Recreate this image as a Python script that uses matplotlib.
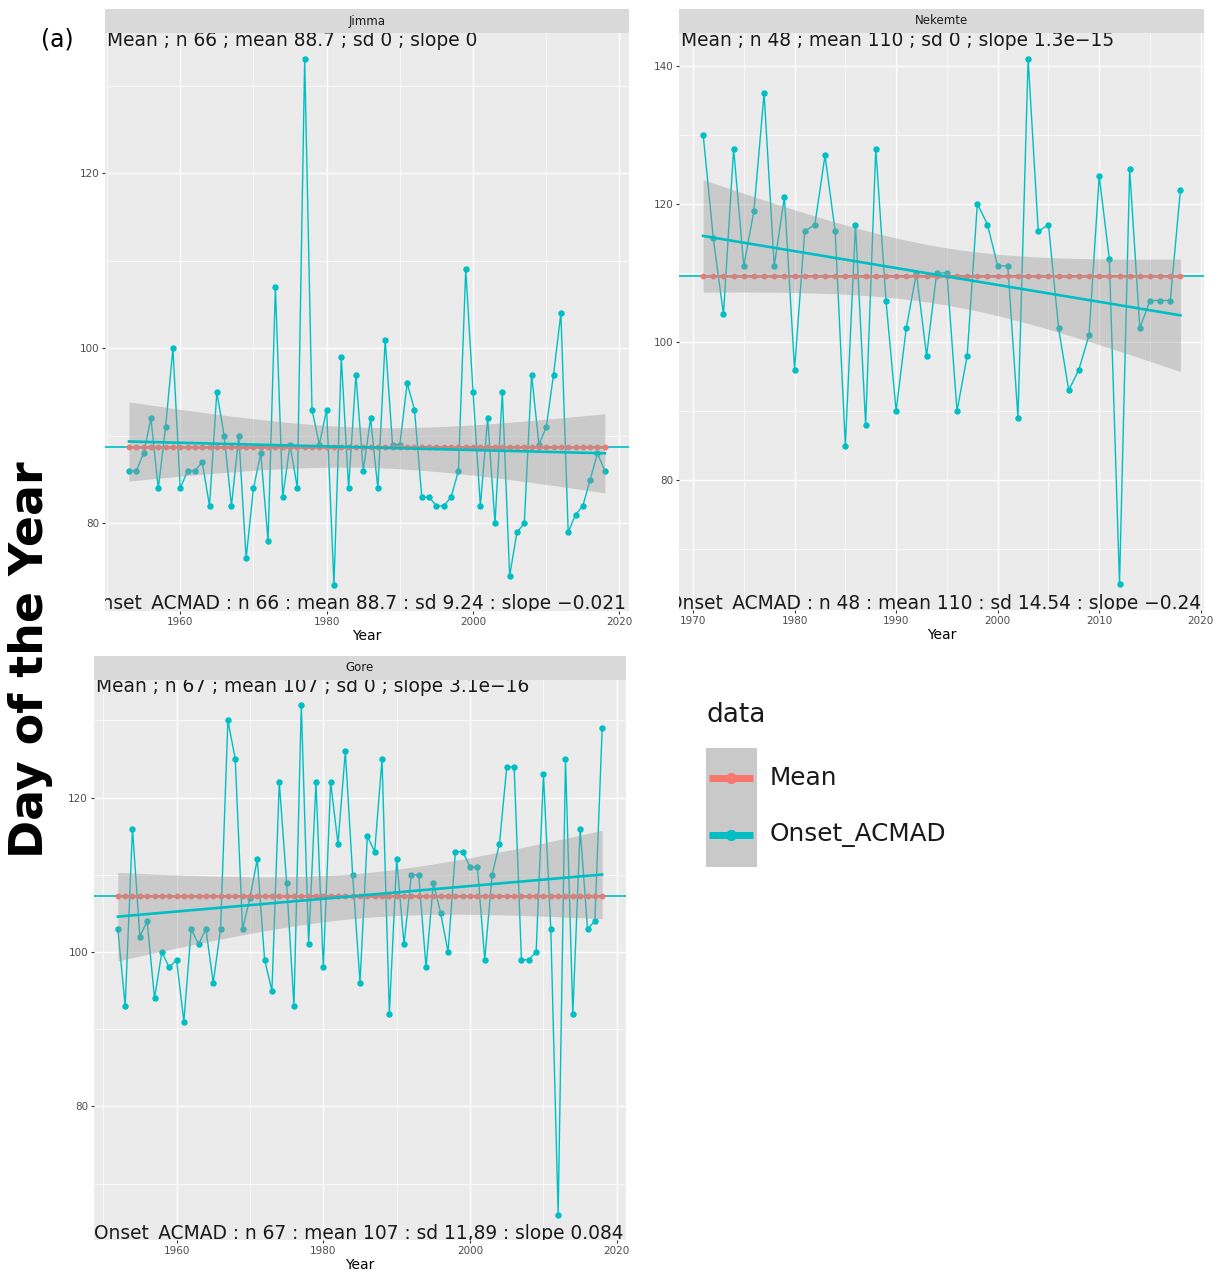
import numpy as np
import matplotlib
matplotlib.use("Agg")
import matplotlib.pyplot as plt
from matplotlib.patches import Rectangle
from matplotlib.ticker import FixedLocator

# ---------------- data ----------------
jimma_years = list(range(1953, 2019))
jimma_onset = [86, 86, 88, 92, 84, 91, 100, 84, 86, 86,
               87, 82, 95, 90, 82, 90, 76, 84, 88, 78,
               107, 83, 89, 84, 133, 93, 89, 93, 73, 99,
               84, 97, 86, 92, 84, 101, 89, 89, 96, 93,
               83, 83, 82, 82, 83, 86, 109, 95, 82, 92,
               80, 95, 74, 79, 80, 97, 89, 91, 97, 104,
               79, 81, 82, 85, 88, 86]

nekemte_years = list(range(1971, 2019))
nekemte_onset = [130, 115, 104, 128, 111, 119, 136, 111, 121, 96,
                 116, 117, 127, 116, 85, 117, 88, 128, 106, 90,
                 102, 110, 98, 110, 110, 90, 98, 120, 117, 111,
                 111, 89, 141, 116, 117, 102, 93, 96, 101, 124,
                 112, 65, 125, 102, 106, 106, 106, 122]

gore_years = list(range(1952, 2019))
gore_onset = [103, 93, 116, 102, 104, 94, 100, 98, 99, 91,
              103, 101, 103, 96, 103, 130, 125, 103, 107, 112,
              99, 95, 122, 109, 93, 132, 101, 122, 98, 122,
              114, 126, 110, 96, 115, 113, 125, 92, 112, 101,
              110, 110, 98, 109, 105, 100, 113, 113, 111, 111,
              99, 110, 114, 124, 124, 99, 99, 100, 123, 103,
              66, 125, 92, 116, 103, 104, 129]

station_names = ["Jimma", "Nekemte", "Gore"]
mean_labels = ["Mean ; n 66 ; mean 88.7 ; sd 0 ; slope 0",
               "Mean ; n 48 ; mean 110 ; sd 0 ; slope 1.3e\u221215",
               "Mean ; n 67 ; mean 107 ; sd 0 ; slope 3.1e\u221216"]
onset_labels = ["Onset_ACMAD : n 66 : mean 88.7 : sd 9.24 : slope \u22120.021",
                "Onset_ACMAD : n 48 : mean 110 : sd 14.54 : slope \u22120.24",
                "Onset_ACMAD : n 67 : mean 107 : sd 11,89 : slope 0.084"]
x_major_ticks = [[1960, 1980, 2000, 2020],
                 [1970, 1980, 1990, 2000, 2010, 2020],
                 [1960, 1980, 2000, 2020]]
x_minor_ticks = [[1950, 1970, 1990, 2010],
                 [1975, 1985, 1995, 2005, 2015],
                 [1950, 1970, 1990, 2010]]
y_major_ticks = [[80, 100, 120], [80, 100, 120, 140], [80, 100, 120]]
y_minor_ticks = [[70, 90, 110, 130], [70, 90, 110, 130], [70, 90, 110, 130]]
legend_title = "data"
legend_labels = ["Mean", "Onset_ACMAD"]
y_axis_title = "Day of the Year"
panel_tag = "(a)"

TEAL = "#00BFC4"
RED = "#F8766D"

W, H = 1215, 1273
fig = plt.figure(figsize=(W / 100, H / 100), dpi=100)


def rect(l, r, t, b):
    return [l / W, 1 - b / H, (r - l) / W, (b - t) / H]


# (left, right, strip_top, panel_top, panel_bottom) in pixels
panel_boxes = [(105.2, 628.6, 9.3, 33.0, 611.0),
               (679.3, 1204.3, 9.3, 32.5, 610.0),
               (93.6, 626.4, 656.0, 679.5, 1240.0)]


def t975(df):
    z = 1.959963985
    g1 = (z ** 3 + z) / 4
    g2 = (5 * z ** 5 + 16 * z ** 3 + 3 * z) / 96
    g3 = (3 * z ** 7 + 19 * z ** 5 + 17 * z ** 3 - 15 * z) / 384
    return z + g1 / df + g2 / df ** 2 + g3 / df ** 3


def draw_panel(box, name, years, vals, top_txt, bot_txt, xmaj, xmin, ymaj, ymin):
    l, r, st, t, b = box
    ax = fig.add_axes(rect(l, r, t, b))
    sax = fig.add_axes(rect(l, r, st, t))
    sax.set_facecolor("#D9D9D9")
    sax.set_xticks([])
    sax.set_yticks([])
    for s in sax.spines.values():
        s.set_visible(False)
    sax.text(0.5, 0.5, name, ha="center", va="center", fontsize=8.5,
             color="#1A1A1A", transform=sax.transAxes)

    x = np.array(years, dtype=float)
    y = np.array(vals, dtype=float)
    ax.set_facecolor("#EBEBEB")
    xr = x.max() - x.min()
    yr = y.max() - y.min()
    ax.set_xlim(x.min() - 0.05 * xr, x.max() + 0.05 * xr)
    ax.set_ylim(y.min() - 0.05 * yr, y.max() + 0.05 * yr)
    for s in ax.spines.values():
        s.set_visible(False)
    ax.xaxis.set_major_locator(FixedLocator(xmaj))
    ax.xaxis.set_minor_locator(FixedLocator(xmin))
    ax.yaxis.set_major_locator(FixedLocator(ymaj))
    ax.yaxis.set_minor_locator(FixedLocator(ymin))
    ax.set_axisbelow(True)
    ax.grid(which="major", color="white", lw=1.0)
    ax.grid(which="minor", color="white", lw=0.5)
    ax.tick_params(which="major", length=2.5, width=0.8, color="#333333",
                   labelsize=7.5, labelcolor="#4D4D4D", pad=1.5)
    ax.tick_params(which="minor", length=0)
    ax.set_xlabel("Year", fontsize=10, labelpad=2)

    m = y.mean()
    ax.plot(x, y, color=TEAL, lw=1.0, marker="o", ms=3.6, zorder=3)
    ax.axhline(m, color=TEAL, lw=1.2, zorder=3.05)
    ax.plot(x, np.full_like(x, m), color=RED, lw=1.8, marker="o", ms=3.2, zorder=3.1)

    coef = np.polyfit(x, y, 1)
    xs = np.linspace(x.min(), x.max(), 80)
    fit = np.polyval(coef, xs)
    resid = y - np.polyval(coef, x)
    n = len(x)
    s = np.sqrt(np.sum(resid ** 2) / (n - 2))
    se = s * np.sqrt(1.0 / n + (xs - x.mean()) ** 2 / np.sum((x - x.mean()) ** 2))
    tq = t975(n - 2)
    ax.fill_between(xs, fit - tq * se, fit + tq * se, color="#999999", alpha=0.4,
                    lw=0, zorder=4)
    ax.plot(xs, fit, color=TEAL, lw=1.9, zorder=5)

    ax.annotate(top_txt, xy=(0, 1), xycoords="axes fraction", xytext=(2, -13),
                textcoords="offset pixels", ha="left", va="baseline",
                fontsize=13.4, color="#1A1A1A", zorder=6)
    ax.annotate(bot_txt, xy=(1, 0), xycoords="axes fraction", xytext=(-3, 1.5),
                textcoords="offset pixels", ha="right", va="baseline",
                fontsize=13.4, color="#1A1A1A", zorder=6, clip_on=True)
    return ax


series = [(jimma_years, jimma_onset), (nekemte_years, nekemte_onset), (gore_years, gore_onset)]
for i in range(3):
    draw_panel(panel_boxes[i], station_names[i], series[i][0], series[i][1],
               mean_labels[i], onset_labels[i], x_major_ticks[i], x_minor_ticks[i],
               y_major_ticks[i], y_minor_ticks[i])

fig.text(57 / W, 1 - 40 / H, panel_tag, fontsize=17, ha="center", va="center")
fig.text(31 / W, 1 - 660 / H, y_axis_title, rotation=90, fontsize=33,
         fontweight="bold", ha="center", va="center")

# legend (manual, ggplot style)
lax = fig.add_axes([0, 0, 1, 1])
lax.set_xlim(0, W)
lax.set_ylim(H, 0)
lax.axis("off")
lax.patch.set_alpha(0)
lax.add_patch(Rectangle((706, 748), 51, 119, facecolor="#C9C9C9", edgecolor="none"))
key_y = [778, 835]
key_colors = [RED, TEAL]
for yk, col, lab in zip(key_y, key_colors, legend_labels):
    lax.plot([709, 753], [yk, yk], color=col, lw=5, solid_capstyle="butt")
    lax.plot([731], [yk], marker="o", ms=7, color=col)
    lax.text(770, yk, lab, fontsize=17.8, va="center", ha="left", color="#1A1A1A")
lax.text(706, 715, legend_title, fontsize=19, va="center", ha="left", color="#1A1A1A")

fig.savefig("out.png", dpi=100)
